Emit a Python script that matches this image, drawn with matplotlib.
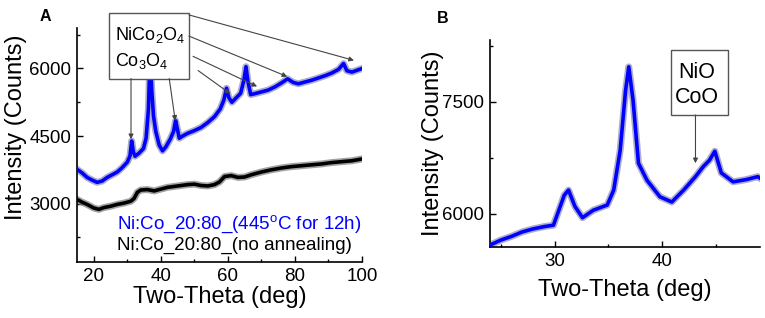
import matplotlib
matplotlib.use("Agg")
import matplotlib.pyplot as plt
from matplotlib.patches import Rectangle
from matplotlib.ticker import MultipleLocator

plt.rcParams['font.family'] = ['Liberation Sans', 'DejaVu Sans']
plt.rcParams['mathtext.default'] = 'regular'

# panel A, annealed sample (blue)
a_blue_x = [15, 16.5, 18, 19.5, 21, 22.5, 24, 25.5, 27, 28.5, 30, 30.8, 31.3, 31.8, 32.3,
            33.5, 34.8, 35.6, 36.3, 36.8, 37.3, 37.8, 38.5, 39.5, 40.5, 41.5, 42.8, 43.8,
            44.4, 44.8, 45.5, 46.5, 48, 50, 52, 54, 56, 57.7, 58.8, 59.6, 60.3, 61.2, 62.5,
            63.8, 64.8, 65.4, 66.0, 66.8, 68, 70, 72, 74, 76, 77.8, 79.5, 81, 83, 85, 87,
            89, 91, 93, 94.5, 95.5, 97, 98.5, 100]
a_blue_y = [3760, 3680, 3580, 3520, 3470, 3500, 3580, 3640, 3700, 3800, 3920, 4060, 4390,
            4150, 4050, 4120, 4220, 4450, 5100, 6300, 5500, 4950, 4600, 4300, 4170, 4260,
            4430, 4600, 4840, 4700, 4450, 4500, 4560, 4620, 4690, 4800, 4930, 5100, 5300,
            5560, 5350, 5250, 5350, 5450, 5750, 6040, 5700, 5420, 5440, 5480, 5520, 5590,
            5680, 5770, 5690, 5660, 5700, 5740, 5790, 5840, 5900, 5980, 6110, 5950, 5920,
            5960, 6000]

# panel A, as-deposited sample (black)
a_black_x = [15, 16.5, 18, 20, 21.5, 23, 25, 27, 29, 31, 32, 33, 34, 36, 38, 40, 42, 44,
             46, 48, 50, 52, 54, 56, 57.5, 59, 61, 63, 65, 67, 70, 73, 76, 79, 82, 85, 88,
             91, 94, 97, 100]
a_black_y = [3090, 3030, 2980, 2900, 2870, 2910, 2940, 2980, 3010, 3050, 3110, 3250, 3300,
             3310, 3280, 3320, 3360, 3380, 3400, 3420, 3430, 3400, 3390, 3420, 3480, 3600,
             3620, 3580, 3590, 3640, 3700, 3750, 3790, 3820, 3840, 3860, 3880, 3910, 3930,
             3950, 3990]

# panel B, zoom on annealed sample
b_x = [24.1, 25, 26, 27, 28, 29, 29.9, 30.4, 30.9, 31.3, 31.9, 32.6, 33.6, 34.9, 35.5,
       36.1, 36.6, 36.9, 37.3, 37.8, 38.6, 39.8, 40.9, 42.0, 43.1, 43.8, 44.4, 44.9, 45.5,
       46.6, 47.8, 48.9, 49.1]
b_y = [5590, 5650, 5700, 5760, 5800, 5830, 5850, 6050, 6250, 6320, 6100, 5950, 6050, 6120,
       6320, 6850, 7650, 7970, 7520, 6680, 6450, 6230, 6160, 6320, 6500, 6630, 6720, 6840,
       6550, 6430, 6460, 6500, 6480]

# peaks pointed at by the arrows
a_peaks = [(31.1, 4430), (44.3, 4840), (97.6, 6180), (77.7, 5820), (68.7, 5600), (60.7, 5440)]
b_peak = (43.1, 6680)

label_blue = 'Ni:Co_20:80_(445$^o$C for 12h)'
label_black = 'Ni:Co_20:80_(no annealing)'

fig = plt.figure(figsize=(7.65, 3.18), dpi=100)
axA = fig.add_axes([0.1007, 0.176, 0.3725, 0.736])
axB = fig.add_axes([0.6405, 0.2233, 0.353, 0.651])


def style(ax):
    for s in ['top', 'right']:
        ax.spines[s].set_visible(False)
    for s in ['left', 'bottom']:
        ax.spines[s].set_linewidth(1.2)
    ax.tick_params(which='both', direction='in', labelsize=13.5, width=1.0)
    ax.tick_params(which='major', length=4.5, pad=4)
    ax.tick_params(which='minor', length=2.5)


def trace(ax, x, y, col, halo):
    ax.plot(x, y, color=halo, lw=5.0, alpha=0.8, solid_joinstyle='round', zorder=2)
    ax.plot(x, y, color=col, lw=2.6, solid_joinstyle='round', zorder=3)


# ---- panel A
style(axA)
trace(axA, a_black_x, a_black_y, 'black', '#8c8c8c')
trace(axA, a_blue_x, a_blue_y, '#0000ff', '#9a9ac0')
axA.set_xlim(15, 100)
axA.set_ylim(1700, 6900)
axA.set_xticks([20, 40, 60, 80, 100])
axA.xaxis.set_minor_locator(MultipleLocator(10))
axA.set_yticks([3000, 4500, 6000])
axA.yaxis.set_minor_locator(MultipleLocator(750))
axA.set_xlabel('Two-Theta (deg)', fontsize=17, labelpad=1)
axA.set_ylabel('Intensity (Counts)', fontsize=17)
axA.yaxis.set_label_coords(-0.175, 0.575)

axA.add_patch(Rectangle((24.55, 5776), 23.85, 1455, fc='white', ec='#555555', lw=1.0,
                        clip_on=False, zorder=5))
axA.text(26.4, 6627, 'NiCo$_2$O$_4$', fontsize=13, zorder=6)
axA.text(26.4, 6045, 'Co$_3$O$_4$', fontsize=13, zorder=6)
starts = [(31.1, 5776), (42.5, 5776), (48.4, 7190), (48.4, 6720), (49.6, 6270), (51.1, 5955)]
for st, pk in zip(starts, a_peaks):
    axA.annotate('', xy=pk, xytext=st, annotation_clip=False,
                 arrowprops=dict(arrowstyle='-|>', color='#444444', lw=0.8,
                                 mutation_scale=7, shrinkA=0, shrinkB=0), zorder=6)

axA.text(0.14, 0.162, label_blue, color='#0000ff', fontsize=13.5, va='center',
         transform=axA.transAxes)
axA.text(0.14, 0.073, label_black, color='black', fontsize=13.5, va='center',
         transform=axA.transAxes)

# ---- panel B
style(axB)
trace(axB, b_x, b_y, '#0000ff', '#9a9ac0')
axB.set_xlim(24, 49.1)
axB.set_ylim(5558, 8330)
axB.set_xticks([30, 40])
axB.xaxis.set_minor_locator(MultipleLocator(5))
axB.set_yticks([6000, 7500])
axB.yaxis.set_minor_locator(MultipleLocator(750))
axB.set_xlabel('Two-Theta (deg)', fontsize=17, labelpad=7)
axB.set_ylabel('Intensity (Counts)', fontsize=17)
axB.yaxis.set_label_coords(-0.17, 0.5)

axB.add_patch(Rectangle((40.8, 7326), 5.34, 870, fc='white', ec='#555555', lw=1.0,
                        clip_on=False, zorder=5))
axB.text(43.2, 7821, 'NiO', fontsize=15.5, ha='center', zorder=6)
axB.text(43.2, 7486, 'CoO', fontsize=15.5, ha='center', zorder=6)
axB.annotate('', xy=b_peak, xytext=(b_peak[0], 7326),
             arrowprops=dict(arrowstyle='-|>', color='#444444', lw=0.8,
                             mutation_scale=7, shrinkA=0, shrinkB=0), zorder=6)

fig.text(0.059, 0.947, 'A', fontsize=11.5, fontweight='bold', ha='center', va='center')
fig.text(0.579, 0.943, 'B', fontsize=11.5, fontweight='bold', ha='center', va='center')

fig.savefig('out.png', dpi=100)
